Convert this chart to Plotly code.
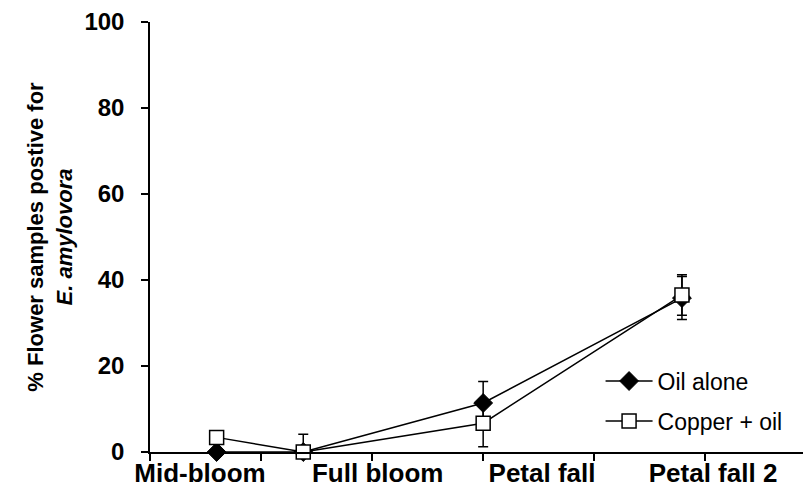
import plotly.graph_objects as go

# Sampling positions along the season (axis units) and stage labels
x_pos = [0.6, 1.38, 3.0, 4.79]
stage_labels = ["Mid-bloom", "Full bloom", "Petal fall", "Petal fall 2"]
stage_label_pos = [0.45, 2.05, 3.53, 5.07]

# % of flower samples positive, with error bars
oil_alone = [0.0, 0.0, 11.4, 35.8]
oil_err = [0.0, 0.0, 5.0, 5.0]
oil_err_minus = [0.0, 0.0, 5.0, 5.0]

copper_oil = [3.4, 0.0, 6.7, 36.5]
copper_err = [0.0, 4.1, 5.5, 4.7]
copper_err_minus = [0.0, 0.0, 5.5, 4.7]

FONT = "Arial, Liberation Sans, sans-serif"

fig = go.Figure()

fig.add_trace(go.Scatter(
    x=x_pos, y=oil_alone, name="Oil alone", mode="lines+markers",
    line=dict(color="black", width=1.5),
    marker=dict(symbol="diamond", size=14.5, color="black",
                line=dict(color="black", width=1)),
    error_y=dict(type="data", array=oil_err, arrayminus=oil_err_minus,
                 color="black", thickness=1.5, width=5),
    cliponaxis=False, legendgroup="a",
))

fig.add_trace(go.Scatter(
    x=x_pos, y=copper_oil, name="Copper + oil", mode="lines+markers",
    line=dict(color="black", width=1.5),
    marker=dict(symbol="square", size=14, color="white",
                line=dict(color="black", width=1.5)),
    error_y=dict(type="data", array=copper_err, arrayminus=copper_err_minus,
                 color="black", thickness=1.5, width=5),
    cliponaxis=False, legendgroup="b",
))

# invisible trace carrying the stage labels on an overlaid axis
fig.add_trace(go.Scatter(x=stage_label_pos, y=[None] * 4, xaxis="x2",
                         showlegend=False, hoverinfo="skip"))

xr = [0, 5.88]
fig.update_layout(
    width=803, height=492,
    margin=dict(l=150, r=0, t=22, b=40, autoexpand=False),
    paper_bgcolor="white", plot_bgcolor="white",
    font=dict(family=FONT, color="black"),
    showlegend=True,
    legend=dict(x=0.69, y=0.215, xanchor="left", yanchor="top",
                font=dict(family=FONT, size=23, color="black"),
                itemwidth=47,
                bgcolor="rgba(0,0,0,0)", tracegroupgap=7),
    xaxis=dict(range=xr, tick0=0, dtick=1, showticklabels=False,
               ticks="outside", ticklen=7, tickwidth=1.5, tickcolor="black",
               showline=True, linecolor="black", linewidth=1.5,
               showgrid=False, zeroline=False, fixedrange=True, automargin=False),
    xaxis2=dict(range=xr, overlaying="x", side="bottom", anchor="y",
                tickmode="array", tickvals=stage_label_pos, ticktext=stage_labels,
                ticks="", showline=False, showgrid=False, zeroline=False,
                ticklabelstandoff=3, automargin=False,
                tickfont=dict(family=FONT, size=26, color="black", weight="bold")),
    yaxis=dict(range=[0, 100], tick0=0, dtick=20,
               ticks="outside", ticklen=7, tickwidth=1.5, tickcolor="black",
               showline=True, linecolor="black", linewidth=1.5,
               showgrid=False, zeroline=False, ticklabelstandoff=12, automargin=False,
               tickfont=dict(family=FONT, size=24, color="black", weight="bold"),
               title=dict(text="% Flower samples postive for<br><i>E. amylovora</i>",
                          font=dict(family=FONT, size=22, color="black", weight="bold"),
                          standoff=6)),
)

fig.write_html("out.html")
